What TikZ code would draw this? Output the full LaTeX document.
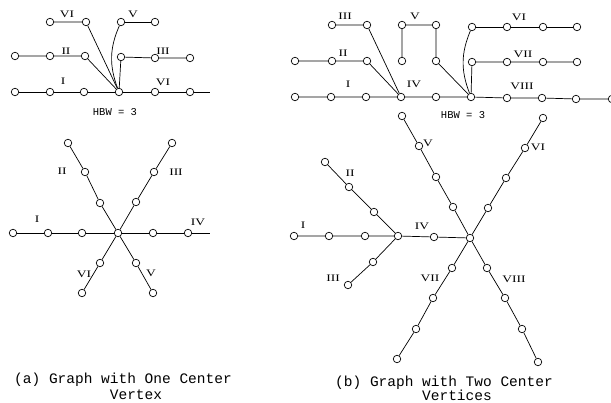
\documentclass[tikz,border=0pt]{standalone}
\usepackage{fontspec}
\newfontfamily\labfont{Liberation Serif}
\newfontfamily\capfont{Liberation Mono}
\begin{document}
\begin{tikzpicture}[x=1pt,y=-1pt,
  v/.style={circle,draw,fill=white,inner sep=0pt,minimum size=7.5pt,line width=0.7pt},
  e/.style={line width=0.7pt},
  lab/.style={font=\labfont\fontsize{10}{10}\selectfont,inner sep=0pt,xscale=1.35},
  hbw/.style={font=\capfont\fontsize{10.5}{10.5}\selectfont,inner sep=0pt},
  captxt/.style={font=\capfont\fontsize{14.5}{14.5}\selectfont,inner sep=0pt}]
\useasboundingbox (0,0) rectangle (611,403);
% ---------------- (a) top ----------------
\node[v] (a1) at (15,92) {};
\node[v] (a2) at (50,92) {};
\node[v] (a3) at (84,92) {};
\node[v] (ac) at (119,92) {};
\node[v] (a5) at (155,92) {};
\node[v] (a6) at (190,92) {};
\coordinate (aend) at (210,92);
\node[v] (b1) at (15,56) {};
\node[v] (b2) at (50,56) {};
\node[v] (b3) at (85,56) {};
\node[v] (c1) at (50,22) {};
\node[v] (c2) at (86,22) {};
\node[v] (d1) at (121,22) {};
\node[v] (d2) at (155,22) {};
\node[v] (e1) at (121,57) {};
\node[v] (e2) at (155,58) {};
\node[v] (e3) at (190,58) {};
\draw[e] (a1)--(a2)--(a3)--(ac)--(a5)--(a6)--(aend);
\draw[e] (b1)--(b2)--(b3)--(ac);
\draw[e] (c1)--(c2)--(ac);
\draw[e] (d2)--(d1);
\draw[e] (d1) to[bend right=22] (ac);
\draw[e] (e3)--(e2)--(e1)--(ac);
\node[lab] (la1) at (67,14) {VI};
\node[lab] (la2) at (133,14) {V};
\node[lab] (la3) at (66,51) {II};
\node[lab] (la4) at (163,51) {III};
\node[lab] (la5) at (63,81) {I};
\node[lab] (la6) at (163,82) {VI};
\node[hbw] (hbwa) at (115,112) {HBW = 3};
% ---------------- (a) bottom ----------------
\node[v] (fc) at (118,233) {};
\node[v] (f1) at (13,233) {};
\node[v] (f2) at (48,233) {};
\node[v] (f3) at (82,233) {};
\node[v] (f5) at (153,233) {};
\node[v] (f6) at (188,233) {};
\coordinate (fend) at (210,233);
\node[v] (g1) at (100,203) {};
\node[v] (g2) at (85,172) {};
\node[v] (g3) at (68,143) {};
\node[v] (h1) at (136,202) {};
\node[v] (h2) at (154,172) {};
\node[v] (h3) at (172,143) {};
\node[v] (i1) at (100,263) {};
\node[v] (i2) at (82,293) {};
\node[v] (j1) at (136,263) {};
\node[v] (j2) at (153,293) {};
\draw[e] (f1)--(f2)--(f3)--(fc)--(f5)--(f6)--(fend);
\draw[e] (fc)--(g1)--(g2)--(g3);
\draw[e] (fc)--(h1)--(h2)--(h3);
\draw[e] (fc)--(i1)--(i2);
\draw[e] (fc)--(j1)--(j2);
\node[lab] (lb1) at (62,171) {II};
\node[lab] (lb2) at (176,172) {III};
\node[lab] (lb3) at (37,219) {I};
\node[lab] (lb4) at (198,222) {IV};
\node[lab] (lb5) at (84,274) {VI};
\node[lab] (lb6) at (151,273) {V};
\node[captxt] (capa1) at (123,380) {(a) Graph with One Center};
\node[captxt] (capa2) at (136,395) {Vertex};
% ---------------- (b) top ----------------
\node[v] (k1) at (295,97) {};
\node[v] (k2) at (331,97) {};
\node[v] (k3) at (366,97) {};
\node[v] (k4) at (401,97) {};
\node[v] (k5) at (436,97) {};
\node[v] (k6) at (471,97) {};
\node[v] (k7) at (507,98) {};
\node[v] (k8) at (542,98) {};
\node[v] (k9) at (576,99) {};
\node[v] (k10) at (612,99) {};
\node[v] (l1) at (295,61) {};
\node[v] (l2) at (332,61) {};
\node[v] (l3) at (367,61) {};
\node[v] (m1) at (332,25) {};
\node[v] (m2) at (367,25) {};
\node[v] (n1) at (402,61) {};
\node[v] (n2) at (402,25) {};
\node[v] (n3) at (436,25) {};
\node[v] (n4) at (436,61) {};
\node[v] (o1) at (472,27) {};
\node[v] (o2) at (507,27) {};
\node[v] (o3) at (543,27) {};
\node[v] (o4) at (577,27) {};
\node[v] (p1) at (472,62) {};
\node[v] (p2) at (507,62) {};
\node[v] (p3) at (543,62) {};
\node[v] (p4) at (577,62) {};
\draw[e] (k1)--(k2)--(k3)--(k4)--(k5)--(k6)--(k7)--(k8)--(k9)--(k10);
\draw[e] (l1)--(l2)--(l3)--(k4);
\draw[e] (m1)--(m2)--(k4);
\draw[e] (n1)--(n2)--(n3)--(n4)--(k6);
\draw[e] (o4)--(o3)--(o2)--(o1);
\draw[e] (o1) to[bend right=22] (k6);
\draw[e] (p4)--(p3)--(p2)--(p1)--(k6);
\node[lab] (lc1) at (345,16) {III};
\node[lab] (lc2) at (415,16) {V};
\node[lab] (lc3) at (519,17) {VI};
\node[lab] (lc4) at (343,53) {II};
\node[lab] (lc5) at (523,54) {VII};
\node[lab] (lc6) at (348,84) {I};
\node[lab] (lc7) at (414,84) {IV};
\node[lab] (lc8) at (522,86) {VIII};
\node[hbw] (hbwb) at (463,115) {HBW = 3};
% ---------------- (b) bottom ----------------
\node[v] (q1) at (294,236) {};
\node[v] (q2) at (329,236) {};
\node[v] (q3) at (365,236) {};
\node[v] (qc) at (398,236) {};
\node[v] (q5) at (434,237) {};
\node[v] (rc) at (470,238) {};
\node[v] (s1) at (374,212) {};
\node[v] (s2) at (349,187) {};
\node[v] (s3) at (325,162) {};
\node[v] (t1) at (373,262) {};
\node[v] (t2) at (348,285) {};
\node[v] (u1) at (453,207) {};
\node[v] (u2) at (436,177) {};
\node[v] (u3) at (419,146) {};
\node[v] (u4) at (402,116) {};
\node[v] (w1) at (488,208) {};
\node[v] (w2) at (506,178) {};
\node[v] (w3) at (525,148) {};
\node[v] (w4) at (543,118) {};
\node[v] (x1) at (452,268) {};
\node[v] (x2) at (433,298) {};
\node[v] (x3) at (416,329) {};
\node[v] (x4) at (397,359) {};
\node[v] (y1) at (487,268) {};
\node[v] (y2) at (505,298) {};
\node[v] (y3) at (522,329) {};
\node[v] (y4) at (538,362) {};
\draw[e] (q1)--(q2)--(q3)--(qc)--(q5)--(rc);
\draw[e] (qc)--(s1)--(s2)--(s3);
\draw[e] (qc)--(t1)--(t2);
\draw[e] (rc)--(u1)--(u2)--(u3)--(u4);
\draw[e] (rc)--(w1)--(w2)--(w3)--(w4);
\draw[e] (rc)--(x1)--(x2)--(x3)--(x4);
\draw[e] (rc)--(y1)--(y2)--(y3)--(y4);
\node[lab] (ld1) at (428,143) {V};
\node[lab] (ld2) at (538,147) {VI};
\node[lab] (ld3) at (350,173) {II};
\node[lab] (ld4) at (303,225) {I};
\node[lab] (ld5) at (422,226) {IV};
\node[lab] (ld6) at (333,278) {III};
\node[lab] (ld7) at (430,278) {VII};
\node[lab] (ld8) at (514,279) {VIII};
\node[captxt] (capb1) at (444,383) {(b) Graph with Two Center};
\node[captxt] (capb2) at (457,395) {Vertices};
\end{tikzpicture}
\end{document}
